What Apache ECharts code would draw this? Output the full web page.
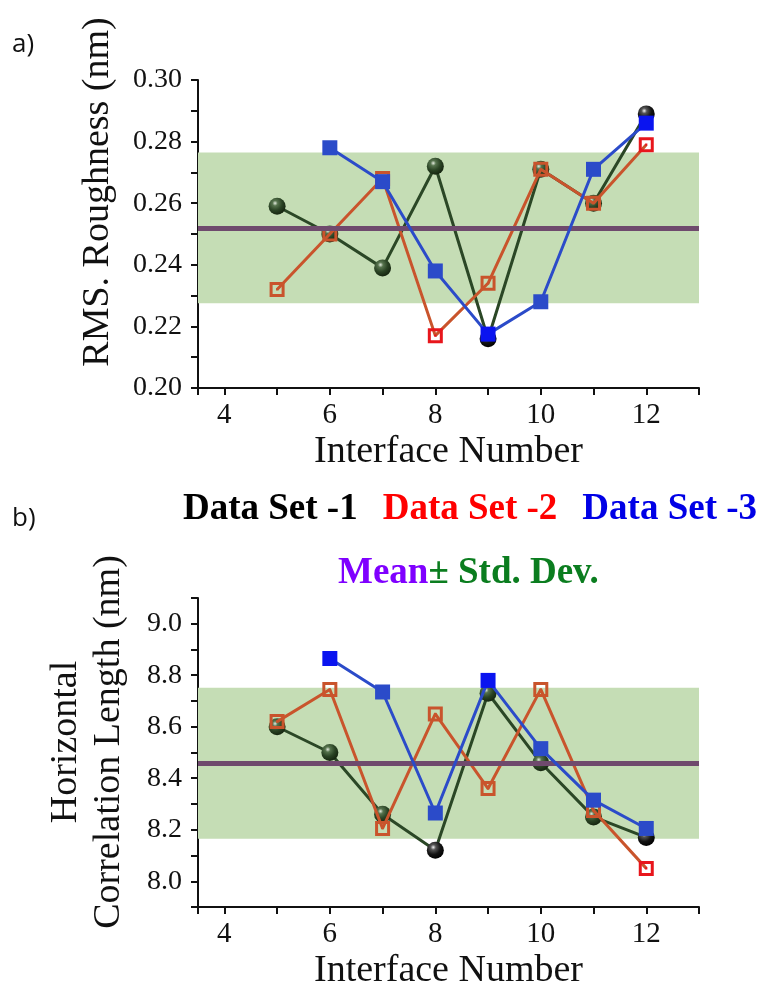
<!DOCTYPE html>
<html>
<head>
<meta charset="utf-8">
<script src="https://cdn.jsdelivr.net/npm/echarts@6/dist/echarts.min.js"></script>
<style>
  html, body { margin: 0; padding: 0; background: #fff; }
  #chart { width: 773px; height: 992px; }
</style>
</head>
<body>
<div id="chart"></div>
<script>
// Interface numbers on the x axis
const interfaces = [5, 6, 7, 8, 9, 10, 11, 12];
const interfacesSet3 = [6, 7, 8, 9, 10, 11, 12];
const xLabelValues = [4, 6, 8, 10, 12];

// (a) RMS roughness, nm
const roughSet1 = [0.259, 0.250, 0.239, 0.272, 0.216, 0.271, 0.260, 0.289];
const roughSet2 = [0.232, 0.250, 0.268, 0.217, 0.234, 0.271, 0.260, 0.279];
const roughSet3 = [0.278, 0.267, 0.238, 0.2175, 0.228, 0.271, 0.286];
const roughMean = 0.252;
const roughStd = 0.0245;
const roughLabels = ['0.20', '0.22', '0.24', '0.26', '0.28', '0.30'];

// (b) horizontal correlation length, nm
const corrSet1 = [8.60, 8.50, 8.26, 8.12, 8.73, 8.46, 8.25, 8.17];
const corrSet2 = [8.62, 8.745, 8.205, 8.65, 8.36, 8.745, 8.275, 8.05];
const corrSet3 = [8.865, 8.735, 8.265, 8.78, 8.515, 8.315, 8.205];
const corrMean = 8.458;
const corrStd = 0.293;
const corrLabels = ['8.0', '8.2', '8.4', '8.6', '8.8', '9.0'];

const SERIF = 'Liberation Serif';
const RG = echarts.graphic.RadialGradient;

const greenSphere = new RG(0.38, 0.32, 0.7, [
  { offset: 0, color: '#e4ecdf' },
  { offset: 0.22, color: '#56734d' },
  { offset: 0.6, color: '#2a4324' },
  { offset: 1, color: '#15240f' }
]);
const blackSphere = new RG(0.38, 0.32, 0.7, [
  { offset: 0, color: '#f2f2f2' },
  { offset: 0.22, color: '#555555' },
  { offset: 0.6, color: '#141414' },
  { offset: 1, color: '#000000' }
]);

// open square with a centre dot
const openSquare = 'path://M0,0H15V15H0Z M3,3V12H12V3Z M6.4,6.4H8.6V8.6H6.4Z';

function sphereSeries(name, xs, ys, axisIdx, blackAt) {
  return {
    name, type: 'line', xAxisIndex: axisIdx, yAxisIndex: axisIdx, z: 3,
    data: xs.map((x, i) => ({
      value: [x, ys[i]],
      itemStyle: { color: blackAt.includes(x) ? blackSphere : greenSphere }
    })),
    symbol: 'circle', symbolSize: 17,
    lineStyle: { color: '#2b4726', width: 3 },
    itemStyle: { color: greenSphere, borderWidth: 0 },
    emphasis: { disabled: true }
  };
}

function openSquareSeries(name, xs, ys, axisIdx, redAt) {
  return {
    name, type: 'line', xAxisIndex: axisIdx, yAxisIndex: axisIdx, z: 4,
    data: xs.map((x, i) => ({
      value: [x, ys[i]],
      itemStyle: { color: redAt.includes(x) ? '#e8161c' : '#c9542c' }
    })),
    symbol: openSquare, symbolSize: 15,
    lineStyle: { color: '#c9542c', width: 3 },
    itemStyle: { color: '#c9542c', borderWidth: 0 },
    emphasis: { disabled: true }
  };
}

function blueSquareSeries(name, xs, ys, axisIdx, brightAt) {
  return {
    name, type: 'line', xAxisIndex: axisIdx, yAxisIndex: axisIdx, z: 5,
    data: xs.map((x, i) => ({
      value: [x, ys[i]],
      itemStyle: { color: brightAt.includes(x) ? '#0a14f0' : '#2b4bc9' }
    })),
    symbol: 'rect', symbolSize: 15,
    lineStyle: { color: '#2b4bc9', width: 3 },
    itemStyle: { color: '#2b4bc9', borderWidth: 0 },
    emphasis: { disabled: true }
  };
}

function meanSeries(axisIdx, mean, std) {
  return {
    name: 'Mean', type: 'line', xAxisIndex: axisIdx, yAxisIndex: axisIdx, z: 1,
    data: [], silent: true,
    markArea: {
      silent: true,
      itemStyle: { color: '#c5ddb5' },
      data: [[{ yAxis: mean - std }, { yAxis: mean + std }]]
    },
    markLine: {
      silent: true, symbol: 'none', animation: false, precision: 4,
      label: { show: false },
      lineStyle: { color: '#6f4a6d', width: 5, type: 'solid' },
      data: [{ yAxis: mean }]
    }
  };
}

function serifLabel(s) {
  return s === '' ? '' : '{t|' + s + '}';
}
const labelRich = { t: { fontFamily: SERIF, fontSize: 29, color: '#111' } };

function xAxisCfg(gridIndex) {
  return {
    type: 'value', gridIndex, min: 3.5, max: 13, splitNumber: 10,
    name: 'Interface Number', nameLocation: 'middle', nameGap: 45,
    nameTextStyle: { fontFamily: SERIF, fontSize: 38, color: '#111' },
    axisLine: { show: true, onZero: false, lineStyle: { color: '#111', width: 2 } },
    axisTick: { show: true, inside: false, length: 7, lineStyle: { color: '#111', width: 2 } },
    axisLabel: {
      margin: 13, fontFamily: SERIF, fontSize: 29, color: '#111', rich: labelRich,
      showMinLabel: true, showMaxLabel: true, hideOverlap: false,
      formatter: v => serifLabel(
        (xLabelValues.includes(Math.round(v)) && Math.abs(v - Math.round(v)) < 1e-6) ? String(Math.round(v)) : '')
    },
    splitLine: { show: false }
  };
}

function yAxisCfg(gridIndex, min, max, interval, labels, digits) {
  return {
    type: 'value', gridIndex, min, max, interval,
    axisLine: { show: true, onZero: false, lineStyle: { color: '#111', width: 2 } },
    axisTick: { show: true, inside: false, length: 7, lineStyle: { color: '#111', width: 2 } },
    axisLabel: {
      margin: 16, fontFamily: SERIF, fontSize: 28, color: '#111',
      rich: { t: { fontFamily: SERIF, fontSize: 28, color: '#111' } },
      showMinLabel: true, showMaxLabel: true, hideOverlap: false,
      formatter: v => {
        const s = Number(v).toFixed(digits);
        return serifLabel(labels.includes(s) ? s : '');
      }
    },
    splitLine: { show: false }
  };
}

const chart = echarts.init(document.getElementById('chart'), null, { renderer: 'canvas' });

chart.setOption({
  animation: false,
  backgroundColor: '#ffffff',
  textStyle: { fontFamily: SERIF },
  grid: [
    { left: 198, right: 74, top: 80, height: 308 },
    { left: 198, right: 74, top: 598, height: 309 }
  ],
  xAxis: [xAxisCfg(0), xAxisCfg(1)],
  yAxis: [
    yAxisCfg(0, 0.20, 0.30, 0.01, roughLabels, 2),
    yAxisCfg(1, 7.9, 9.1, 0.1, corrLabels, 1)
  ],
  legend: [
    {
      data: [
        { name: 'Data Set -1', textStyle: { color: '#000000' } },
        { name: 'Data Set -2', textStyle: { color: '#ff0000' } },
        { name: 'Data Set -3', textStyle: { color: '#0000e6' } }
      ],
      icon: 'none', itemWidth: 0, itemHeight: 0, itemGap: 20,
      left: 178, top: 491, selectedMode: false, padding: 0,
      textStyle: { fontFamily: SERIF, fontWeight: 'bold', fontSize: 37 }
    },
    {
      data: ['Mean'],
      icon: 'none', itemWidth: 0, itemHeight: 0,
      left: 333, top: 555, selectedMode: false, padding: 0,
      formatter: () => '{m|Mean}{s|± Std. Dev.}',
      textStyle: {
        fontFamily: SERIF, fontWeight: 'bold', fontSize: 37,
        rich: {
          m: { fontFamily: SERIF, fontWeight: 'bold', fontSize: 37, color: '#7f00ff' },
          s: { fontFamily: SERIF, fontWeight: 'bold', fontSize: 37, color: '#0b7d1f' }
        }
      }
    }
  ],
  graphic: [
    { type: 'text', left: 12, top: 32, style: { text: 'a)', font: '26px "Open Sans"', fill: '#111' } },
    { type: 'text', left: 12, top: 506, style: { text: 'b)', font: '26px "Open Sans"', fill: '#111' } },
    {
      type: 'text', x: 98, y: 192, rotation: Math.PI / 2,
      style: { text: 'RMS. Roughness (nm)', font: '38px "Liberation Serif"', fill: '#111',
               align: 'center', verticalAlign: 'middle' }
    },
    {
      type: 'text', x: 88, y: 742, rotation: Math.PI / 2,
      style: { text: 'Horizontal\nCorrelation Length (nm)', font: '38px "Liberation Serif"', fill: '#111',
               align: 'center', verticalAlign: 'middle', lineHeight: 43 }
    }
  ],
  series: [
    meanSeries(0, roughMean, roughStd),
    sphereSeries('Data Set -1', interfaces, roughSet1, 0, [9, 12]),
    openSquareSeries('Data Set -2', interfaces, roughSet2, 0, [8, 12]),
    blueSquareSeries('Data Set -3', interfacesSet3, roughSet3, 0, [9, 12]),
    meanSeries(1, corrMean, corrStd),
    sphereSeries('Data Set -1', interfaces, corrSet1, 1, [8, 12]),
    openSquareSeries('Data Set -2', interfaces, corrSet2, 1, [12]),
    blueSquareSeries('Data Set -3', interfacesSet3, corrSet3, 1, [6, 9])
  ]
});
</script>
</body>
</html>
